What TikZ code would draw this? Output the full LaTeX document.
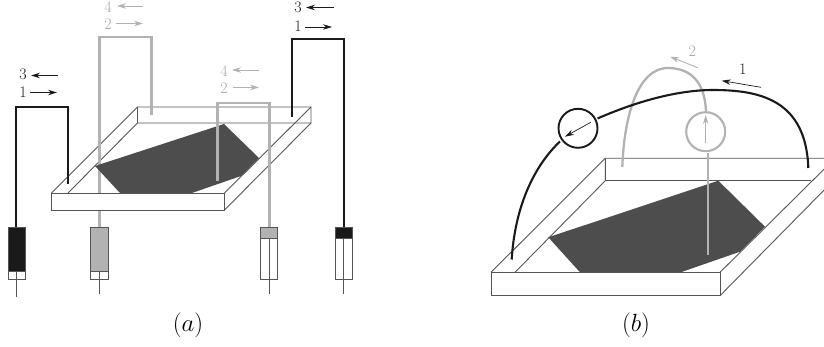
\documentclass[tikz,border=0pt]{standalone}
\usetikzlibrary{arrows.meta}
\definecolor{tubeblack}{HTML}{1A1A1A}
\definecolor{tubegrey}{HTML}{B2B2B2}
\definecolor{numgrey}{HTML}{A6A6A6}
\definecolor{plate}{HTML}{4D4D4D}
\definecolor{edgec}{HTML}{555555}
\tikzset{
  frameline/.style={draw=edgec,line width=0.9pt,line join=miter},
  wall/.style={frameline,fill=white},
  liquid/.style={fill=plate,draw=none},
  tubeb/.style={draw=tubeblack,line width=2.1pt,line join=miter},
  tubeg/.style={draw=tubegrey,line width=2.3pt,line join=miter},
  flowb/.style={draw=tubeblack,line width=0.7pt,-{Stealth[length=9pt,width=5.5pt]}},
  flowg/.style={draw=tubegrey,line width=0.9pt,-{Stealth[length=9pt,width=5.5pt]}},
  numb/.style={text=tubeblack,font=\fontsize{16}{16}\selectfont,inner sep=0pt},
  numg/.style={text=numgrey,font=\fontsize{16}{16}\selectfont,inner sep=0pt},
  capt/.style={text=black,font=\Huge,inner sep=0pt},
  barrel/.style={frameline,fill=white},
  stem/.style={draw=edgec,line width=0.8pt}
}
\begin{document}
\begin{tikzpicture}[x=1pt,y=-1pt]
\useasboundingbox (0,0) rectangle (824,347);
% ---------- (a) ----------
\draw[frameline] (51.5,193) -- (137.5,107) -- (311,107) -- (311,123) -- (137.5,123) -- (137.5,107);
\draw[frameline] (137.5,123) -- (68,193);
\draw[frameline] (224.5,193) -- (311,107);
\draw[frameline] (224.5,210) -- (311,123);
\draw[tubeg] (99.5,227) -- (99.5,37) -- (151.5,37) -- (151.5,115);
\fill[liquid] (95,166) -- (224,124) -- (259,158) -- (241,176) -- (192,193) -- (120,193) -- cycle;
\draw[tubeg] (217.5,181) -- (217.5,103) -- (269.5,103) -- (269.5,227);
\draw[tubeb] (16,227) -- (16,107) -- (68,107) -- (68,184);
\draw[tubeb] (344,227) -- (344,39) -- (292,39) -- (292,117);
\draw[wall] (51.5,193) rectangle (224.5,210);
% syringes
\draw[barrel] (8,227) rectangle (25,279);
\draw[frameline,fill=tubeblack] (8,227) rectangle (25,271);
\draw[stem] (16.5,271) -- (16.5,297);
\draw[barrel] (90.5,227) rectangle (108,279);
\draw[frameline,fill=tubegrey] (90.5,227) rectangle (108,271);
\draw[stem] (99.5,271) -- (99.5,294);
\draw[barrel] (260.5,227) rectangle (277.5,279);
\draw[frameline,fill=tubegrey] (260.5,227) rectangle (277.5,238);
\draw[stem] (269.5,238) -- (269.5,294);
\draw[barrel] (335.5,227) rectangle (352,279);
\draw[frameline,fill=tubeblack] (335.5,227) rectangle (352,238);
\draw[stem] (343.5,238) -- (343.5,294);
% labels and flow arrows
\node[numg] (a4l) at (108,7.5) {4};
\node[numg] (a2l) at (108,24) {2};
\draw[flowg] (143,6) -- (117,6);
\draw[flowg] (116,23.5) -- (143,23.5);
\node[numg] (a4m) at (224,71) {4};
\node[numg] (a2m) at (224,88) {2};
\draw[flowg] (259,70) -- (232,70);
\draw[flowg] (233,87.5) -- (259,87.5);
\node[numb] (a3l) at (23,74.5) {3};
\node[numb] (a1l) at (23,92) {1};
\draw[flowb] (58,75.5) -- (31,75.5);
\draw[flowb] (30,92.5) -- (57,92.5);
\node[numb] (a3r) at (298,7.5) {3};
\node[numb] (a1r) at (298,26.5) {1};
\draw[flowb] (333.5,7.5) -- (306,7.5);
\draw[flowb] (305,27) -- (332,27);
\node[capt] (capa) at (188,325) {$(a)$};
% ---------- (b) ----------
\begin{scope}
\clip (440,0) rectangle (824,347);
\draw[frameline] (491,272.3) -- (605.3,158.3) -- (840,158.3);
\draw[frameline] (605.3,158.3) -- (605.3,180.7) -- (515,272.3);
\draw[frameline] (605.3,180.7) -- (811,180.7);
\draw[frameline] (720,272.3) -- (835,158.3);
\draw[frameline] (720,295.7) -- (835,179);
\end{scope}
\fill[liquid] (548.3,237.3) -- (718.3,180.7) -- (765,226.7) -- (740,251.7) -- (680.7,272.3) -- (580,272.3) -- cycle;
\draw[wall] (491,272.3) rectangle (720,295.7);
% grey tube
\draw[tubeg] (622.3,167) .. controls (624,118) and (637,68) .. (668,68) .. controls (693,68) and (705,85) .. (706,111.5);
\draw[tubeg] (708.3,153) -- (708.3,255);
\node[draw=tubegrey,line width=2.1pt,circle,minimum size=39pt,inner sep=0pt,fill=none] (cg) at (705.7,131.7) {};
% black tube
\draw[tubeb] (511.7,259.5) .. controls (515,205) and (535,165) .. (560,141.5);
\draw[tubeb] (597.5,118.5) .. controls (640,100) and (680,90) .. (713,90) .. controls (760,90) and (806,100) .. (808.3,168);
\node[draw=tubeblack,line width=1.9pt,circle,minimum size=39pt,inner sep=0pt,fill=none] (cb) at (578,128.3) {};
% flow arrows
\draw[flowb] (590.7,122.3) -- (565,136.7);
\draw[flowg] (705.7,143.3) -- (705.7,115);
\draw[flowb] (761,87.3) -- (721.7,80.7);
\draw[flowg] (697.7,67.7) -- (670,56.7);
\node[numb] (b1) at (742.7,69.5) {1};
\node[numg] (b2) at (692.3,51.7) {2};
\node[capt] (capb) at (636,325) {$(b)$};
\end{tikzpicture}
\end{document}
